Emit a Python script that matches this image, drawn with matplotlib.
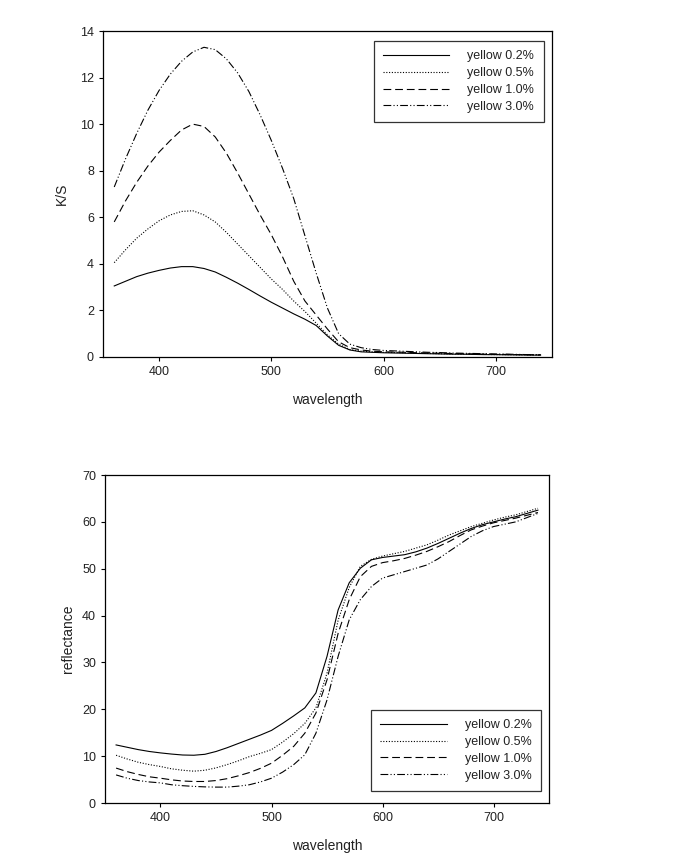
import numpy as np
import matplotlib
matplotlib.use('Agg')
import matplotlib.pyplot as plt

plt.rcParams['font.family'] = ['Liberation Sans', 'DejaVu Sans']

wavelength = [360, 370, 380, 390, 400, 410, 420, 430, 440, 450, 460, 470, 480, 490,
              500, 510, 520, 530, 540, 550, 560, 570, 580, 590, 600, 610, 620, 630,
              640, 650, 660, 670, 680, 690, 700, 710, 720, 730, 740]

labels = ['yellow 0.2%', 'yellow 0.5%', 'yellow 1.0%', 'yellow 3.0%']

# K/S values
ks_02 = [3.05, 3.25, 3.45, 3.6, 3.72, 3.82, 3.88, 3.88, 3.8, 3.65, 3.42, 3.17, 2.9, 2.62,
         2.35, 2.1, 1.85, 1.62, 1.35, 0.9, 0.5, 0.3, 0.22, 0.2, 0.18, 0.17, 0.16, 0.15,
         0.14, 0.13, 0.12, 0.12, 0.11, 0.1, 0.1, 0.09, 0.09, 0.08, 0.08]
ks_05 = [4.05, 4.6, 5.1, 5.5, 5.85, 6.1, 6.25, 6.28, 6.1, 5.8, 5.35, 4.85, 4.35, 3.85,
         3.35, 2.9, 2.4, 1.95, 1.45, 0.95, 0.55, 0.32, 0.25, 0.22, 0.2, 0.19, 0.18, 0.16,
         0.15, 0.14, 0.13, 0.12, 0.12, 0.11, 0.1, 0.1, 0.09, 0.09, 0.08]
ks_10 = [5.8, 6.7, 7.5, 8.2, 8.8, 9.3, 9.75, 10.0, 9.9, 9.45, 8.75, 7.9, 7.0, 6.1,
         5.25, 4.3, 3.25, 2.4, 1.8, 1.2, 0.65, 0.4, 0.3, 0.25, 0.22, 0.21, 0.2, 0.18,
         0.17, 0.16, 0.15, 0.14, 0.13, 0.12, 0.11, 0.11, 0.1, 0.1, 0.09]
ks_30 = [7.3, 8.5, 9.6, 10.6, 11.45, 12.15, 12.7, 13.1, 13.3, 13.2, 12.8, 12.2, 11.4, 10.4,
         9.3, 8.1, 6.8, 5.2, 3.6, 2.1, 1.0, 0.55, 0.4, 0.32, 0.28, 0.26, 0.24, 0.22,
         0.2, 0.19, 0.17, 0.16, 0.15, 0.14, 0.13, 0.12, 0.11, 0.1, 0.1]

# reflectance values
r_02 = [12.4, 11.9, 11.4, 11.0, 10.7, 10.45, 10.25, 10.2, 10.4, 11.0, 11.8, 12.7, 13.6, 14.5,
        15.5, 17.0, 18.6, 20.3, 23.5, 31.3, 41.2, 47.0, 50.1, 51.9, 52.4, 52.7, 53.0, 53.6,
        54.4, 55.4, 56.5, 57.6, 58.6, 59.4, 60.0, 60.6, 61.1, 61.8, 62.5]
r_05 = [10.2, 9.4, 8.7, 8.2, 7.8, 7.3, 7.0, 6.8, 7.0, 7.5, 8.2, 9.0, 9.9, 10.6,
        11.4, 13.0, 14.8, 17.0, 20.3, 27.7, 39.0, 46.0, 50.5, 52.0, 52.7, 53.2, 53.7, 54.4,
        55.1, 56.1, 57.2, 58.1, 59.0, 59.7, 60.4, 61.0, 61.5, 62.2, 62.9]
r_10 = [7.46, 6.7, 6.1, 5.6, 5.3, 4.95, 4.7, 4.6, 4.6, 4.8, 5.2, 5.8, 6.5, 7.4,
        8.5, 10.2, 12.1, 14.9, 19.2, 26.3, 36.2, 43.4, 48.3, 50.5, 51.3, 51.7, 52.2, 52.9,
        53.7, 54.7, 55.8, 57.1, 58.3, 59.1, 59.8, 60.3, 60.8, 61.4, 62.0]
r_30 = [6.0, 5.3, 4.8, 4.5, 4.3, 3.9, 3.7, 3.55, 3.45, 3.4, 3.4, 3.6, 3.9, 4.5,
        5.3, 6.6, 8.2, 10.3, 14.9, 22.0, 31.3, 39.1, 43.4, 46.2, 48.0, 48.7, 49.4, 50.1,
        50.8, 52.1, 53.7, 55.3, 56.9, 58.1, 59.0, 59.5, 60.0, 60.9, 61.8]

styles = ['-', (0, (1, 1.5)), (0, (7, 3.5)), (0, (7, 2, 1, 2, 1, 2))]

fig = plt.figure(figsize=(6.8, 8.66), dpi=100)
ax1 = fig.add_axes([0.1515, 0.5878, 0.660, 0.3764])
ax2 = fig.add_axes([0.1544, 0.0727, 0.653, 0.3788])

for ax, series, ylab, ylim, yticks, loc, anchor, ylpad in [
        (ax1, [ks_02, ks_05, ks_10, ks_30], 'K/S', (0, 14), np.arange(0, 15, 2),
         'upper right', (0.982, 0.969), 8),
        (ax2, [r_02, r_05, r_10, r_30], 'reflectance', (0, 70), np.arange(0, 71, 10),
         'lower right', (0.982, 0.037), 5)]:
    for vals, ls, lab in zip(series, styles, labels):
        ax.plot(wavelength, vals, color='black', linestyle=ls, linewidth=0.8, label=lab)
    ax.set_xlim(350, 750)
    ax.set_ylim(*ylim)
    ax.set_xticks([400, 500, 600, 700])
    ax.set_yticks(yticks)
    ax.tick_params(direction='out', length=3, width=0.8, labelsize=9,
                   colors='black', labelcolor='#222222')
    for sp in ax.spines.values():
        sp.set_linewidth(0.9)
    ax.set_xlabel('wavelength', fontsize=10, labelpad=11, color='#222222')
    ax.set_ylabel(ylab, fontsize=10, labelpad=ylpad, color='#222222')
    leg = ax.legend(loc=loc, bbox_to_anchor=anchor, fontsize=9, frameon=True,
                    fancybox=False, edgecolor='black', handlelength=5.3,
                    handletextpad=1.45, labelspacing=0.38, borderpad=0.75,
                    borderaxespad=0)
    for t in leg.get_texts():
        t.set_color('#222222')
    leg.get_frame().set_linewidth(0.9)

fig.savefig('out.png', dpi=100)
